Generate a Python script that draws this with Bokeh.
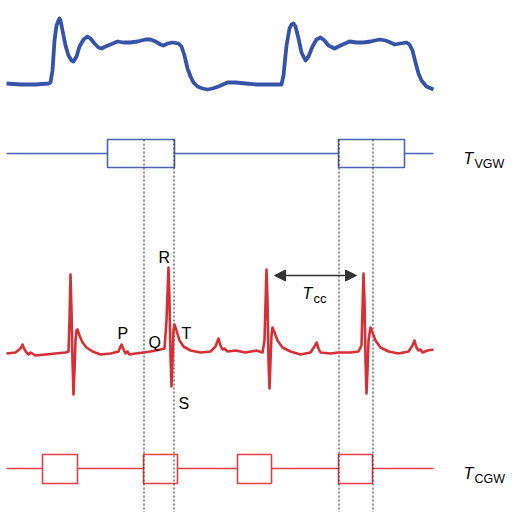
from bokeh.plotting import figure
from bokeh.models import Range1d, Arrow, NormalHead
from bokeh.embed import file_html
from bokeh.resources import INLINE
from bokeh.core.properties import value

# ---- data (time axis in screen-like units, amplitudes) ----
blue_t = [6, 20, 35, 48, 50, 52, 54, 56, 58, 59, 60, 62, 65, 68, 71, 73, 76, 79, 83, 87, 90, 94, 98, 101,
          105, 110, 117, 123, 130, 137, 145, 150, 155, 160, 163, 167, 172, 178, 181, 184, 187, 190, 193,
          197, 202, 207, 212, 218, 227, 235, 245, 256, 270, 281, 283, 286, 289, 291, 293, 295, 298, 301,
          305, 308, 312, 316, 320, 324, 328, 334, 340, 349, 356, 363, 370, 379, 385, 390, 394, 400, 406,
          409, 412, 415, 418, 421, 426, 433]
blue_v = [83, 84, 84, 83, 82, 70, 40, 25, 20, 18, 20, 30, 45, 55, 60, 61, 56, 46, 39, 36, 38, 43, 47, 48,
          46, 44, 41, 42, 42, 41, 39, 39, 41, 44, 45, 43, 42, 43, 46, 55, 68, 76, 82,
          86, 88, 89, 88, 86, 82, 82, 83, 84, 84, 84, 75, 45, 28, 24, 23, 26, 38, 52,
          60, 56, 46, 39, 37, 40, 45, 48, 45, 41, 42, 42, 41, 39, 40, 42, 44, 43, 42,
          44, 50, 62, 73, 80, 86, 89]

ecg_t = [6, 15, 20, 22, 24, 26, 28, 30, 35, 45, 55, 65, 68, 69, 70, 71, 72, 73, 74, 75, 76, 77, 79, 82, 86,
         92, 100, 110, 118, 120, 121, 123, 125, 127, 129, 135, 143, 150, 160, 164, 166, 168, 169, 170,
         171, 172, 173, 174, 176, 179, 183, 190, 200, 210, 215, 218, 220, 222, 224, 227, 235, 245, 256,
         262, 264, 266, 267, 268, 269, 270, 271, 272, 274, 277, 282, 290, 300, 310, 314, 316, 318, 320,
         330, 338, 350, 358, 361, 363, 364, 365, 366, 367, 368, 370, 372, 375, 380, 388, 398, 408, 412,
         414, 416, 418, 420, 422, 427, 433]
ecg_v = [353, 352, 348, 344, 349, 352, 354, 352, 355, 354, 353, 352, 351, 320, 274, 310, 360, 394, 370, 340,
         330, 329, 335, 342, 347, 351, 354, 353, 351, 346, 344, 349, 353, 351, 354, 353, 352, 351, 349,
         348, 320, 267, 300, 355, 386, 360, 330, 324, 330, 340, 346, 350, 352, 351, 346, 338, 345, 349,
         348, 351, 350, 352, 350, 352, 340, 269, 300, 360, 388, 360, 335, 327, 332, 340, 347, 351, 354,
         352, 346, 342, 348, 352, 353, 352, 352, 351, 345, 273, 300, 360, 393, 370, 340, 327, 332, 340,
         347, 351, 353, 351, 345, 340, 347, 350, 349, 352, 350, 349]

vgw_left = [107, 338]
vgw_right = [174, 404]
cgw_left = [42, 143, 237, 338]
cgw_right = [77, 177, 271, 372]
marker_t = [143, 173, 338, 372]
line_span = [6, 433]

BLUE = "#3653a8"
BLUE_L = "#4a63b5"
RED = "#d63036"
RED_L = "#e04046"
FONT = value("Liberation Sans")

p = figure(width=512, height=512, output_backend="svg", toolbar_location=None,
           x_range=Range1d(0, 512), y_range=Range1d(512, 0),
           min_border=0, outline_line_color=None,
           x_axis_location=None, y_axis_location=None)
p.grid.visible = False
p.background_fill_color = "white"

# blue signal
p.line(blue_t, blue_v, line_color=BLUE, line_width=3.8, line_join="round")

# VGW timing line
p.line(line_span, [153, 153], line_color=BLUE_L, line_width=1.6)
p.quad(left=vgw_left, right=vgw_right, top=[139, 139], bottom=[167, 167],
       fill_color="white", line_color=BLUE_L, line_width=1.6)

# CGW timing line
p.line(line_span, [468, 468], line_color=RED_L, line_width=1.6)
p.quad(left=cgw_left, right=cgw_right, top=[454] * 4, bottom=[483] * 4,
       fill_color="white", line_color=RED_L, line_width=1.6)

# dotted markers
p.segment(x0=[m + 0.5 for m in marker_t], x1=[m + 0.5 for m in marker_t], y0=[139] * 4, y1=[520] * 4,
          line_color="#222222", line_width=1.0, line_dash="2 2")

# ECG
p.line(ecg_t, ecg_v, line_color=RED, line_width=2.6, line_join="round")

# arrow T_cc
p.add_layout(Arrow(x_start=274, y_start=275, x_end=356, y_end=275,
                   start=NormalHead(size=11, fill_color="#333333", line_color="#333333"),
                   end=NormalHead(size=11, fill_color="#333333", line_color="#333333"),
                   line_color="#333333", line_width=1.6))

# labels
def lab(x, y, t, size, style="normal"):
    p.text(x=[x], y=[y], text=[t], text_font=FONT, text_font_size=size,
           text_font_style=style, text_color="black", text_baseline="alphabetic",
           text_align="left")

lab(158, 257, "R", "16px")
lab(117, 333, "P", "16px")
lab(148, 342, "Q", "16px")
lab(181, 333, "T", "16px")
lab(178, 403, "S", "16px")

lab(463, 158, "T", "16px", "italic")
lab(474, 163, "VGW", "12.5px")
lab(463, 473, "T", "16px", "italic")
lab(474, 478, "CGW", "12.5px")
lab(302, 293, "T", "16px", "italic")
lab(313, 298, "cc", "13px")

open("out.html", "w").write(file_html(p, INLINE))
